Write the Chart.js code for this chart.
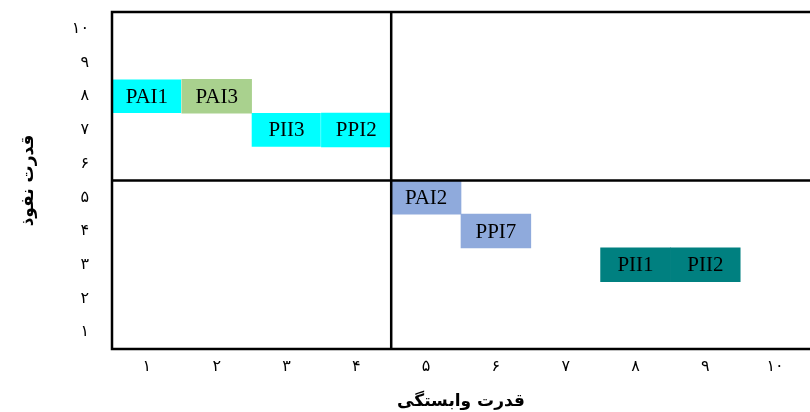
<!DOCTYPE html>
<html>
<head>
<meta charset="utf-8">
<script src="https://cdn.jsdelivr.net/npm/chart.js@4.4.0/dist/chart.umd.min.js"></script>
<style>
    html, body { margin: 0; padding: 0; background: #fff; overflow: hidden; }
    #wrap { width: 810px; height: 412px; position: relative; }
</style>
</head>
<body>
<div id="wrap"><canvas id="matrixChart"></canvas></div>
<script>
// Tick labels (Persian digits) for both axes
const xTickLabels = ['۱', '۲', '۳', '۴', '۵', '۶', '۷', '۸', '۹', '۱۰'];
const yTickLabels = ['۱', '۲', '۳', '۴', '۵', '۶', '۷', '۸', '۹', '۱۰'];

// Each factor: name, dependence power (x), driving power (y)
const factorNames = ['PAI1', 'PAI3', 'PII3', 'PPI2', 'PAI2', 'PPI7', 'PII1', 'PII2'];
const dependencePower = [1, 2, 3, 4, 5, 6, 8, 9];
const drivingPower = [8, 8, 7, 7, 5, 4, 3, 3];

const xTitle = 'قدرت وابستگی';
const yTitle = 'قدرت نفوذ';

// Quadrant dividers (between cells)
const quadrantX = 4.5;
const quadrantY = 5.5;

const cellColors = ['#00FFFF', '#A9D18E', '#00FFFF', '#00FFFF', '#8FAADC', '#8FAADC', '#008080', '#008080'];
const cellBorders = [{ right: 1 }, 0, { right: 1 }, 0, 0, 0, 0, 0];

// Draw frame + quadrant lines
const framePlugin = {
    id: 'frame',
    afterDatasetsDraw(chart) {
        const { ctx, chartArea: a, scales: { x, y } } = chart;
        ctx.save();
        ctx.strokeStyle = '#000';
        ctx.lineWidth = 2.5;
        ctx.beginPath();
        ctx.moveTo(a.right + 2, a.top);
        ctx.lineTo(a.left, a.top);
        ctx.lineTo(a.left, a.bottom);
        ctx.lineTo(a.right + 2, a.bottom);
        const qx = x.getPixelForValue(quadrantX);
        ctx.moveTo(qx, a.top);
        ctx.lineTo(qx, a.bottom);
        const qy = y.getPixelForValue(quadrantY);
        ctx.moveTo(a.left, qy);
        ctx.lineTo(a.right + 2, qy);
        ctx.stroke();
        ctx.restore();
    }
};

// Names written inside each cell
const cellLabelPlugin = {
    id: 'cellLabels',
    afterDatasetsDraw(chart) {
        const { ctx } = chart;
        const meta = chart.getDatasetMeta(0);
        ctx.save();
        ctx.fillStyle = '#000';
        ctx.font = '21px "Liberation Serif", "DejaVu Serif", serif';
        ctx.textAlign = 'center';
        ctx.textBaseline = 'middle';
        meta.data.forEach((bar, i) => {
            const { x, y, base } = bar.getProps(['x', 'y', 'base'], true);
            ctx.fillText(factorNames[i], (x + base) / 2, y + 1);
        });
        ctx.restore();
    }
};

const cells = factorNames.map((name, i) => ({
    x: [dependencePower[i] - 0.5, dependencePower[i] + 0.5],
    y: drivingPower[i]
}));

const tickFont = { family: '"DejaVu Sans", sans-serif', size: 16 };
const titleFont = { family: '"DejaVu Sans", sans-serif', size: 17, weight: 'bold' };

new Chart(document.getElementById('matrixChart'), {
    type: 'bar',
    data: {
        datasets: [{
            data: cells,
            backgroundColor: cellColors,
            borderColor: '#ffffff',
            borderWidth: cellBorders,
            borderSkipped: false,
            barPercentage: 1,
            categoryPercentage: 1
        }]
    },
    options: {
        indexAxis: 'y',
        responsive: true,
        maintainAspectRatio: false,
        animation: false,
        layout: { padding: { top: 12, right: 0, left: 0, bottom: 0 } },
        plugins: {
            legend: { display: false },
            tooltip: { enabled: false }
        },
        scales: {
            x: {
                type: 'linear',
                min: 0.5,
                max: 10.5,
                offset: false,
                grid: { display: false },
                border: { display: false },
                afterBuildTicks: scale => {
                    scale.ticks = xTickLabels.map((_, i) => ({ value: i + 1 }));
                },
                afterFit: scale => {
                    scale.height = 63;
                    scale.paddingLeft = 0;
                    scale.paddingRight = 0;
                },
                ticks: {
                    color: '#000',
                    font: tickFont,
                    padding: 0,
                    maxRotation: 0,
                    callback: value => xTickLabels[value - 1]
                },
                title: {
                    display: true,
                    text: xTitle,
                    color: '#000',
                    font: titleFont,
                    padding: { top: 0, bottom: 0 }
                }
            },
            y: {
                type: 'linear',
                min: 0.5,
                max: 10.5,
                offset: false,
                grid: { display: false, offset: false },
                border: { display: false },
                afterBuildTicks: scale => {
                    scale.ticks = yTickLabels.map((_, i) => ({ value: i + 1 }));
                },
                afterFit: scale => {
                    scale.width = 112;
                    scale.paddingTop = 0;
                    scale.paddingBottom = 0;
                },
                ticks: {
                    color: '#000',
                    font: tickFont,
                    padding: 15,
                    callback: value => yTickLabels[value - 1]
                },
                title: {
                    display: true,
                    text: yTitle,
                    color: '#000',
                    font: titleFont,
                    padding: { top: 18, bottom: 0 }
                }
            }
        }
    },
    plugins: [framePlugin, cellLabelPlugin]
});
</script>
</body>
</html>
